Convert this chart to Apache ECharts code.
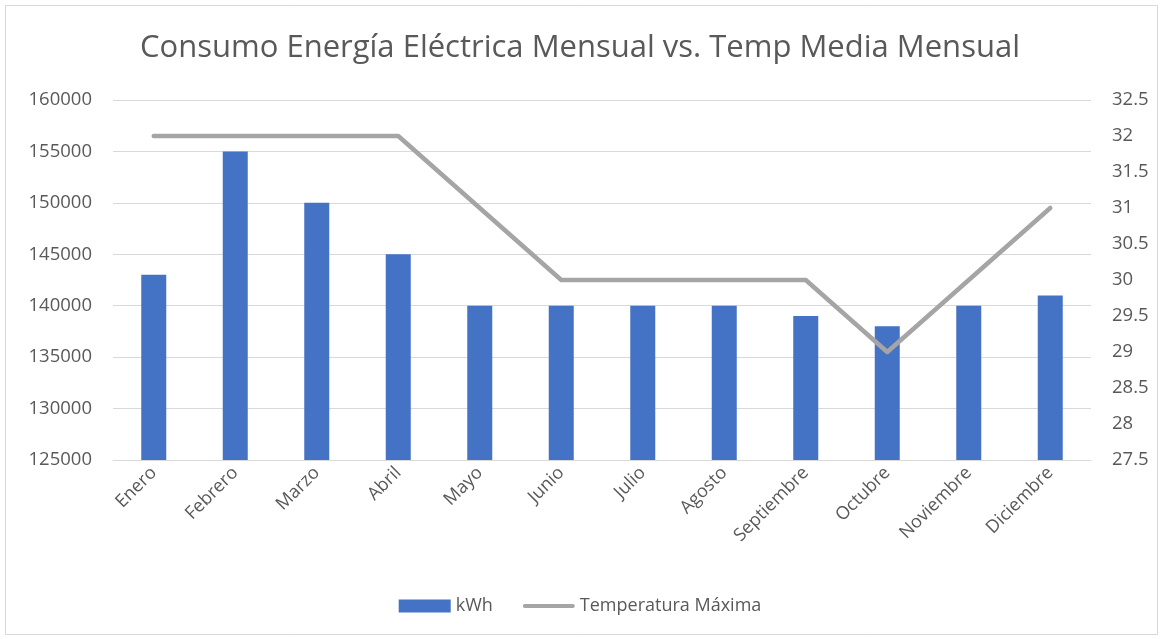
<!DOCTYPE html>
<html>
<head>
<meta charset="utf-8">
<script src="https://cdn.jsdelivr.net/npm/echarts@6/dist/echarts.min.js"></script>
<style>
  html, body { margin: 0; padding: 0; background: #fff; }
  #chart { width: 1160px; height: 639px; }
</style>
</head>
<body>
<div id="chart"></div>
<script>
// Months on the category axis
const months = ['Enero', 'Febrero', 'Marzo', 'Abril', 'Mayo', 'Junio', 'Julio', 'Agosto', 'Septiembre', 'Octubre', 'Noviembre', 'Diciembre'];
// Monthly electricity consumption (kWh)
const kwh = [143000, 155000, 150000, 145000, 140000, 140000, 140000, 140000, 139000, 138000, 140000, 141000];
// Monthly maximum temperature
const tempMax = [32, 32, 32, 32, 31, 30, 30, 30, 30, 29, 30, 31];

const textColor = '#595959';
const gridColor = '#D9D9D9';
const fontFamily = 'Open Sans, Liberation Sans, sans-serif';

// Thick rounded stroke used as the line series' legend marker
const lineIcon = 'path://M2,0 H50 A2,2 0 0 1 50,4 H2 A2,2 0 0 1 2,0 Z';

const chart = echarts.init(document.getElementById('chart'));
chart.setOption({
  animation: false,
  textStyle: { fontFamily: fontFamily },
  title: {
    text: 'Consumo Energía Eléctrica Mensual vs. Temp Media Mensual',
    left: 'center',
    top: 28,
    textStyle: { fontSize: 31, fontWeight: 'normal', color: textColor, fontFamily: fontFamily }
  },
  graphic: [{
    type: 'rect',
    shape: { x: 5.5, y: 5.5, width: 1152, height: 629 },
    style: { fill: 'none', stroke: '#D9D9D9', lineWidth: 1 },
    silent: true
  }],
  legend: {
    bottom: 19,
    left: 'center',
    itemWidth: 52,
    itemHeight: 13,
    itemGap: 30,
    textStyle: { fontSize: 18, color: textColor },
    data: [
      { name: 'kWh', icon: 'rect' },
      { name: 'Temperatura Máxima', icon: lineIcon }
    ]
  },
  grid: { left: 113, right: 69, top: 100, bottom: 179 },
  xAxis: {
    type: 'category',
    data: months,
    axisTick: { show: false },
    axisLine: { lineStyle: { color: gridColor } },
    axisLabel: { rotate: 45, fontSize: 18, color: textColor, margin: 10 }
  },
  yAxis: [{
    type: 'value',
    min: 125000,
    max: 160000,
    interval: 5000,
    axisLabel: { fontSize: 18.5, color: textColor, margin: 21, formatter: (v) => String(v) },
    splitLine: { lineStyle: { color: gridColor } },
    axisLine: { show: false },
    axisTick: { show: false }
  }, {
    type: 'value',
    min: 27.5,
    max: 32.5,
    interval: 0.5,
    position: 'right',
    axisLabel: { fontSize: 18.5, color: textColor, margin: 21, formatter: (v) => String(v) },
    splitLine: { show: false },
    axisLine: { show: false },
    axisTick: { show: false }
  }],
  series: [{
    name: 'kWh',
    type: 'bar',
    data: kwh,
    barWidth: 25,
    itemStyle: { color: '#4472C4' }
  }, {
    name: 'Temperatura Máxima',
    type: 'line',
    yAxisIndex: 1,
    data: tempMax,
    symbol: 'none',
    lineStyle: { color: '#A5A5A5', width: 4.5, cap: 'round', join: 'round' },
    itemStyle: { color: '#A5A5A5' }
  }]
});
</script>
</body>
</html>
